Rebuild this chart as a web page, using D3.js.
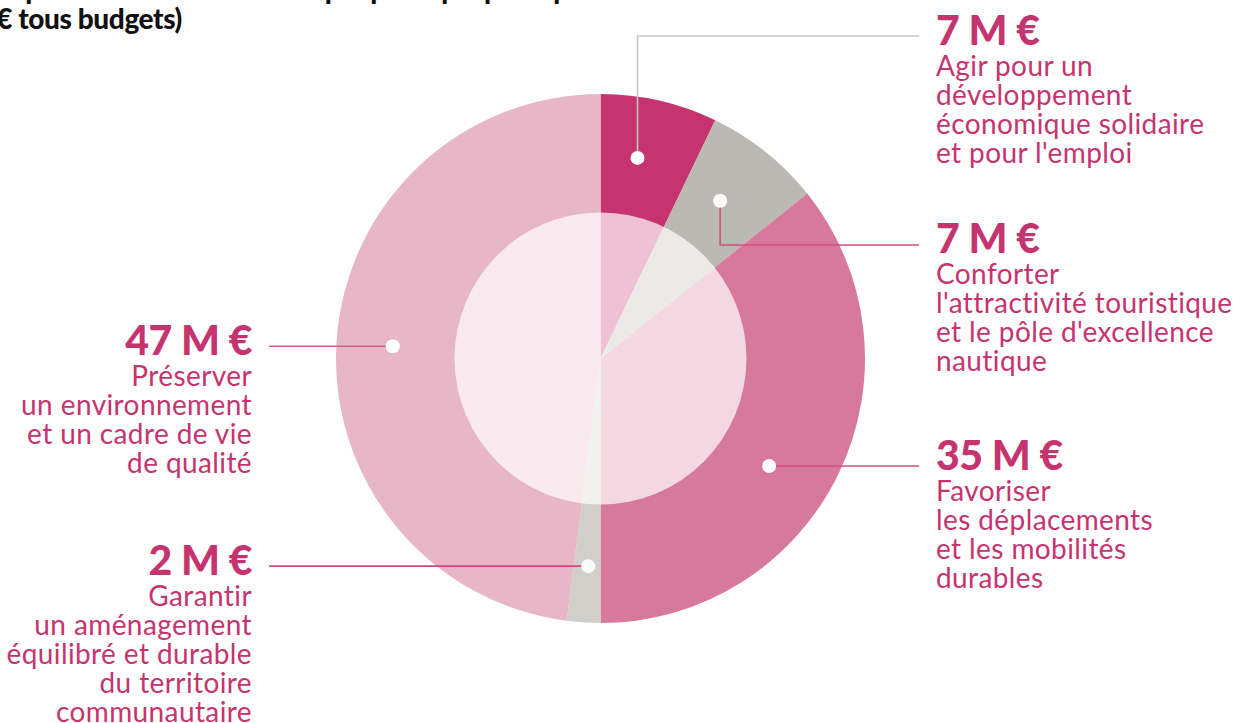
<!DOCTYPE html>
<html>
<head>
<meta charset="utf-8">
<script src="https://cdn.jsdelivr.net/npm/d3@7"></script>
<style>
  body { margin: 0; background: #fff; }
  svg { display: block; }
</style>
</head>
<body>
<svg id="chart"></svg>
<script>
// values in M€, clockwise from 12 o'clock
const amounts = [7, 7, 35, 2, 47];
const valueLabels = ["7 M €", "7 M €", "35 M €", "2 M €", "47 M €"];
const policies = [
  ["Agir pour un", "développement", "économique solidaire", "et pour l'emploi"],
  ["Conforter", "l'attractivité touristique", "et le pôle d'excellence", "nautique"],
  ["Favoriser", "les déplacements", "et les mobilités", "durables"],
  ["Garantir", "un aménagement", "équilibré et durable", "du territoire", "communautaire"],
  ["Préserver", "un environnement", "et un cadre de vie", "de qualité"]
];
const sliceColors = ["#c5346f", "#bbbab2", "#d7799b", "#d0cfc9", "#e7b7c7"];

// label layout (side, leader elbow y, value baseline, dot placement)
const labelSide = ["right", "right", "right", "left", "left"];
const leaderY = [36, 245, null, null, null];
const valueY = [45, 253, 470, 575, 355];
const dotNudge = [-2.4, -1.4, 6.8, -0.3, -0.3];
const dotDist = [204, 198, 200, 208, 208];
const leaderColor = ["#c6c5be", "#d2507f", "#d2507f", "#d2457e", "#d2608c"];

const W = 1242, H = 723;
const cx = 600.5, cy = 358.5;
const outerR = 264.5, innerR = 146;
const textColor = "#c6346f";

const svg = d3.select("#chart").attr("width", W).attr("height", H);

// title (partly cut by the top edge)
svg.append("text")
  .attr("x", 590).attr("y", -1)
  .attr("text-anchor", "end")
  .style("font-family", "Lato, sans-serif").style("font-weight", 900)
  .style("font-size", "28px").style("letter-spacing", "-0.4px")
  .attr("fill", "#111")
  .text("Dépenses d'investissement par politique publique");
svg.append("text")
  .attr("x", 182).attr("y", 29)
  .attr("text-anchor", "end")
  .style("font-family", "Lato, sans-serif").style("font-weight", 900)
  .style("font-size", "28px").style("letter-spacing", "-0.4px")
  .attr("fill", "#111")
  .text("(en M € tous budgets)");

const pie = d3.pie().sort(null).value(d => d);
const arcs = pie(amounts);
const arc = d3.arc().innerRadius(0).outerRadius(outerR);

const g = svg.append("g").attr("transform", `translate(${cx},${cy})`);

g.selectAll("path.slice")
  .data(arcs)
  .join("path")
  .attr("class", "slice")
  .attr("d", arc)
  .attr("fill", (d, i) => sliceColors[i]);

// lighter inner disc
g.append("circle")
  .attr("r", innerR)
  .attr("fill", "#fff")
  .attr("fill-opacity", 0.7);

// anchor points for the leaders
const dots = arcs.map((d, i) => {
  const a = (d.startAngle + d.endAngle) / 2 + dotNudge[i] * Math.PI / 180;
  return { x: cx + dotDist[i] * Math.sin(a), y: cy - dotDist[i] * Math.cos(a) };
});

// leader lines
svg.selectAll("path.leader")
  .data(dots)
  .join("path")
  .attr("class", "leader")
  .attr("fill", "none")
  .attr("stroke", (d, i) => leaderColor[i])
  .attr("stroke-width", 1.6)
  .attr("d", (d, i) => {
    const y = leaderY[i] == null ? d.y : leaderY[i];
    const endX = labelSide[i] === "right" ? 919 : 269;
    return `M${d.x},${d.y}V${y}H${endX}`;
  });

svg.selectAll("circle.dot")
  .data(dots)
  .join("circle")
  .attr("class", "dot")
  .attr("cx", d => d.x)
  .attr("cy", d => d.y)
  .attr("r", 7)
  .attr("fill", "#fff");

// labels
amounts.forEach((v, i) => {
  const right = labelSide[i] === "right";
  const x = right ? 936 : 252;
  const anchor = right ? "start" : "end";
  svg.append("text")
    .attr("x", x).attr("y", valueY[i])
    .attr("text-anchor", anchor)
    .style("font-family", "Lato, sans-serif").style("font-weight", 900)
    .style("font-size", "41px").style("letter-spacing", "-0.5px")
    .attr("fill", textColor)
    .text(valueLabels[i]);
  svg.append("text")
    .attr("text-anchor", anchor)
    .style("font-family", "Lato, sans-serif").style("font-weight", 400)
    .style("font-size", "28px").style("letter-spacing", "0.4px")
    .attr("fill", textColor)
    .selectAll("tspan")
    .data(policies[i])
    .join("tspan")
    .attr("x", x)
    .attr("y", (d, k) => valueY[i] + 30.5 + k * 29)
    .text(d => d);
});
</script>
</body>
</html>
